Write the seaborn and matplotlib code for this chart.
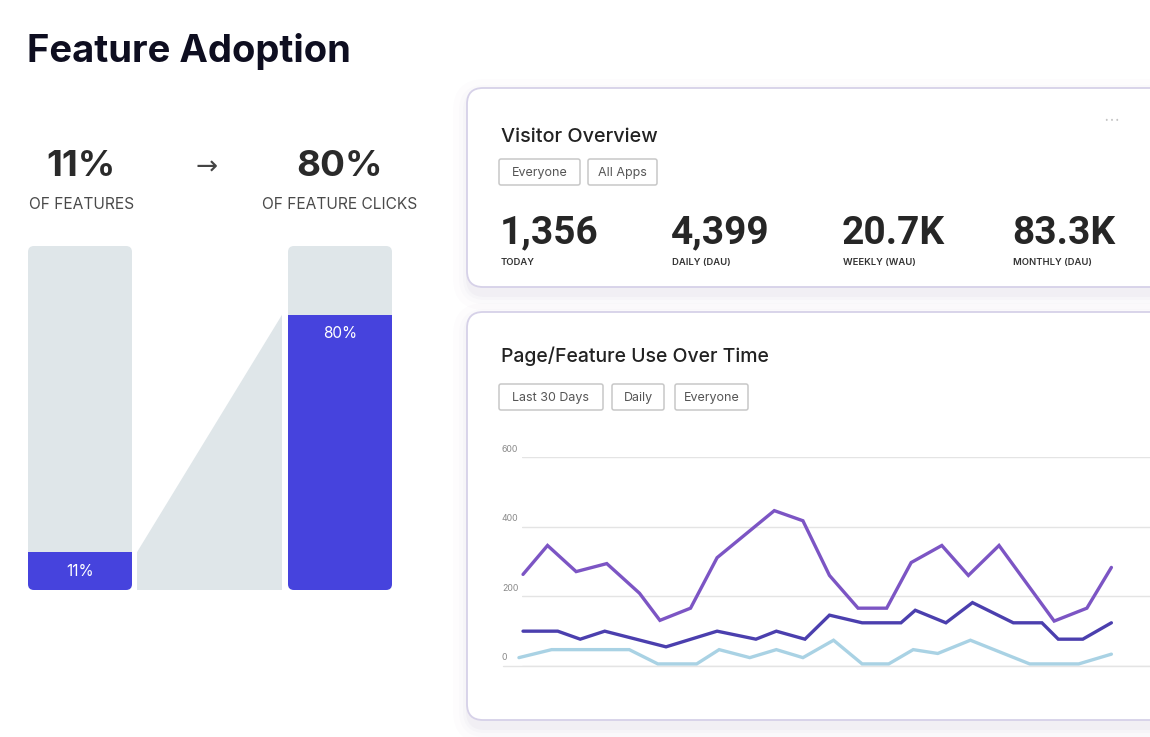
import matplotlib
matplotlib.use("Agg")
import matplotlib.pyplot as plt
import numpy as np
import pandas as pd
import seaborn as sns
from matplotlib.patches import FancyBboxPatch
from matplotlib.transforms import ScaledTranslation

# ---------------- data ----------------
adoption_labels = ["OF FEATURES", "OF FEATURE CLICKS"]
adoption_pct = [11, 80]

kpi_values = ["1,356", "4,399", "20.7K", "83.3K"]
kpi_labels = ["TODAY", "DAILY (DAU)", "WEEKLY (WAU)", "MONTHLY (DAU)"]
visitor_filters = ["Everyone", "All Apps"]
usage_filters = ["Last 30 Days", "Daily", "Everyone"]

purple_day = [1.2, 2.4, 3.8, 5.3, 6.9, 7.9, 9.4, 10.7, 13.5, 14.9, 16.2, 17.6, 19.0, 20.2, 21.7, 23.0, 24.5, 27.2, 28.8, 30.0]
purple_val = [263, 346, 271, 294, 209, 131, 166, 311, 446, 417, 260, 166, 166, 297, 346, 260, 346, 129, 166, 283]

indigo_day = [1.2, 2.9, 4.0, 5.2, 8.2, 10.7, 12.6, 13.6, 15.0, 16.2, 17.8, 19.7, 20.4, 21.9, 23.2, 25.2, 26.6, 27.4, 28.6, 30.0]
indigo_val = [100, 100, 77, 100, 55, 100, 77, 100, 77, 146, 124, 124, 160, 124, 182, 124, 124, 77, 77, 124]

light_day = [1.0, 2.6, 6.4, 7.8, 9.7, 10.8, 12.3, 13.6, 14.9, 16.4, 17.8, 19.1, 20.3, 21.5, 23.1, 26.0, 28.4, 30.0]
light_val = [24, 47, 47, 6, 6, 47, 24, 47, 24, 74, 6, 6, 47, 36, 74, 6, 6, 34]

y_ticks = [0, 200, 400, 600]

# ---------------- style ----------------
sns.set_theme(style="white")
plt.rcParams["font.family"] = ["Inter", "DejaVu Sans"]

W, H = 1150, 737
GRAY = "#dfe6e9"
BLUE = "#4643dd"
PURPLE = "#7c55c4"
INDIGO = "#4b3fae"
LIGHT = "#a9d2e4"

fig = plt.figure(figsize=(W / 100, H / 100), dpi=100)
fig.patch.set_facecolor("white")

bg = fig.add_axes([0, 0, 1, 1], zorder=0)
bg.set_xlim(0, W)
bg.set_ylim(H, 0)
bg.axis("off")

# title
bg.text(27, 51, "Feature Adoption", fontsize=27.5, fontweight="bold", color="#0e0e20",
        ha="left", va="center")

# headline numbers
for cx, pct, lab in zip([81, 339], adoption_pct, adoption_labels):
    bg.text(cx, 166, f"{pct}%", fontsize=26.5, fontweight="bold", color="#2a2a2a",
            ha="center", va="center")
    bg.text(cx + 1, 204, lab, fontsize=11.2, color="#4a4a4a", ha="center", va="center")
bg.text(207, 168, "\u2192", fontsize=19, color="#444444", ha="center", va="center",
        family=["DejaVu Sans"])

# cards with soft shadows
def card(x0, y0, w, h):
    for spread, a in [(16, 0.010), (10, 0.016), (6, 0.022), (3, 0.03)]:
        bg.add_patch(FancyBboxPatch((x0 - spread + 2, y0 - spread + 7), w + 2 * spread, h + 2 * spread,
                                    boxstyle=f"round,pad=0,rounding_size={16 + spread}",
                                    fc="#5a4f8a", ec="none", alpha=a, zorder=1))
    bg.add_patch(FancyBboxPatch((x0, y0), w, h, boxstyle="round,pad=0,rounding_size=16",
                                fc="white", ec="#d6d1e8", lw=1.3, zorder=2))

card(467, 88, 740, 199)
card(467, 312, 740, 408)

def button(x0, x1, yc, label):
    bg.add_patch(FancyBboxPatch((x0, yc - 13), x1 - x0, 26, boxstyle="round,pad=0,rounding_size=2",
                                fc="white", ec="#c8c8c8", lw=1.1, zorder=3))
    bg.text((x0 + x1) / 2, yc + 1, label, fontsize=9, color="#555555", ha="center", va="center", zorder=4)

# Visitor overview card
bg.text(501, 137, "Visitor Overview", fontsize=14.3, fontweight="medium", color="#222222",
        ha="left", va="center", zorder=4)
for (x0, x1), lab in zip([(499, 580), (588, 657)], visitor_filters):
    button(x0, x1, 172, lab)
for cx, val, lab in zip([500, 671, 842, 1012], kpi_values, kpi_labels):
    bg.text(cx, 233, val, fontsize=28, fontweight="bold", color="#262626", ha="left", va="center",
            family=["Roboto", "DejaVu Sans"], zorder=4)
    bg.text(cx + 1, 262, lab, fontsize=6.8, fontweight="semibold", color="#333333", ha="left",
            va="center", zorder=4)
bg.text(1112, 120, "\u2022 \u2022 \u2022", fontsize=4.5, color="#c4c4c4", ha="center", va="center", zorder=4)

# Page/Feature card
bg.text(501, 356, "Page/Feature Use Over Time", fontsize=14, fontweight="medium", color="#222222",
        ha="left", va="center", zorder=4)
for (x0, x1), lab in zip([(499, 603), (612, 664), (675, 748)], usage_filters):
    button(x0, x1, 397, lab)

# ---------------- adoption bars ----------------
axb = fig.add_axes([28 / W, (H - 590) / H, 364 / W, 344 / H], zorder=2)
axb.patch.set_alpha(0)
df_bar = pd.DataFrame({"metric": adoption_labels, "total": [100] * len(adoption_pct), "pct": adoption_pct})
sns.barplot(data=df_bar, x="metric", y="total", color=GRAY, width=0.4, saturation=1,
            linewidth=0, ax=axb)
px_x = 260.0          # pixels per category unit
px_y = 344 / 100.0    # pixels per percent
r = 6
rounded = []
for p in list(axb.patches):
    x0, y0, w, h = p.get_x(), p.get_y(), p.get_width(), p.get_height()
    p.set_visible(False)
    rp = FancyBboxPatch((x0, y0), w, h, boxstyle=f"round,pad=0,rounding_size={r / px_x}",
                        mutation_aspect=(r / px_y) / (r / px_x), fc=GRAY, ec="none", zorder=1)
    axb.add_patch(rp)
    rounded.append(rp)
sns.barplot(data=df_bar, x="metric", y="pct", color=BLUE, width=0.4, saturation=1,
            linewidth=0, ax=axb)
blue_bars = [p for p in axb.patches if p.get_facecolor()[:3] == matplotlib.colors.to_rgb(BLUE)]
for bp, rp in zip(blue_bars, rounded):
    bp.set_clip_path(rp)
    bp.set_edgecolor("none")
    bp.set_zorder(2)
# connector
xl = 0.2 + 5 / px_x
xr = 1 - 0.2 - 6 / px_x
axb.fill([xl, xl, xr, xr], [0, adoption_pct[0], adoption_pct[1], 0], color=GRAY, lw=0, zorder=1)
for i, pct in enumerate(adoption_pct):
    axb.text(i, pct - 5.5, f"{pct}%", color="white", fontsize=11, ha="center", va="center", zorder=3)
axb.set_xlim(-0.2, 1.2)
axb.set_ylim(0, 100)
axb.axis("off")

# ---------------- line chart ----------------
axl = fig.add_axes([522 / W, (H - 666) / H, 628 / W, 209 / H], zorder=3)
axl.patch.set_alpha(0)
df = pd.concat([
    pd.DataFrame({"day": purple_day, "value": purple_val, "series": "Feature A"}),
    pd.DataFrame({"day": indigo_day, "value": indigo_val, "series": "Feature B"}),
    pd.DataFrame({"day": light_day, "value": light_val, "series": "Feature C"}),
])
sns.lineplot(data=df, x="day", y="value", hue="series", estimator=None,
             palette={"Feature A": PURPLE, "Feature B": INDIGO, "Feature C": LIGHT},
             linewidth=2.4, legend=False, ax=axl)
for ln in axl.lines:
    ln.set_clip_on(False)
    ln.set_solid_joinstyle("miter")
axl.set_xlim(1.15, 31.89)
axl.set_ylim(0, 600)
axl.set_yticks(y_ticks)
axl.set_yticklabels([str(t) for t in y_ticks])
axl.set_xticks([])
axl.set_xlabel("")
axl.set_ylabel("")
for s in axl.spines.values():
    s.set_visible(False)
axl.grid(axis="y", color="#e4e4e4", lw=1)
axl.grid(axis="x", visible=False)
axl.tick_params(axis="y", length=0, pad=14.4, labelsize=6.3, labelcolor="#8a8a8a")
off = ScaledTranslation(0, 0.09, fig.dpi_scale_trans)
for lab in axl.get_yticklabels():
    lab.set_horizontalalignment("left")
    lab.set_transform(lab.get_transform() + off)
axl.axhline(0, xmin=-19 / 628, xmax=1, color="#e4e4e4", lw=1, clip_on=False, zorder=0)

fig.savefig("out.png", dpi=100, facecolor="white")
